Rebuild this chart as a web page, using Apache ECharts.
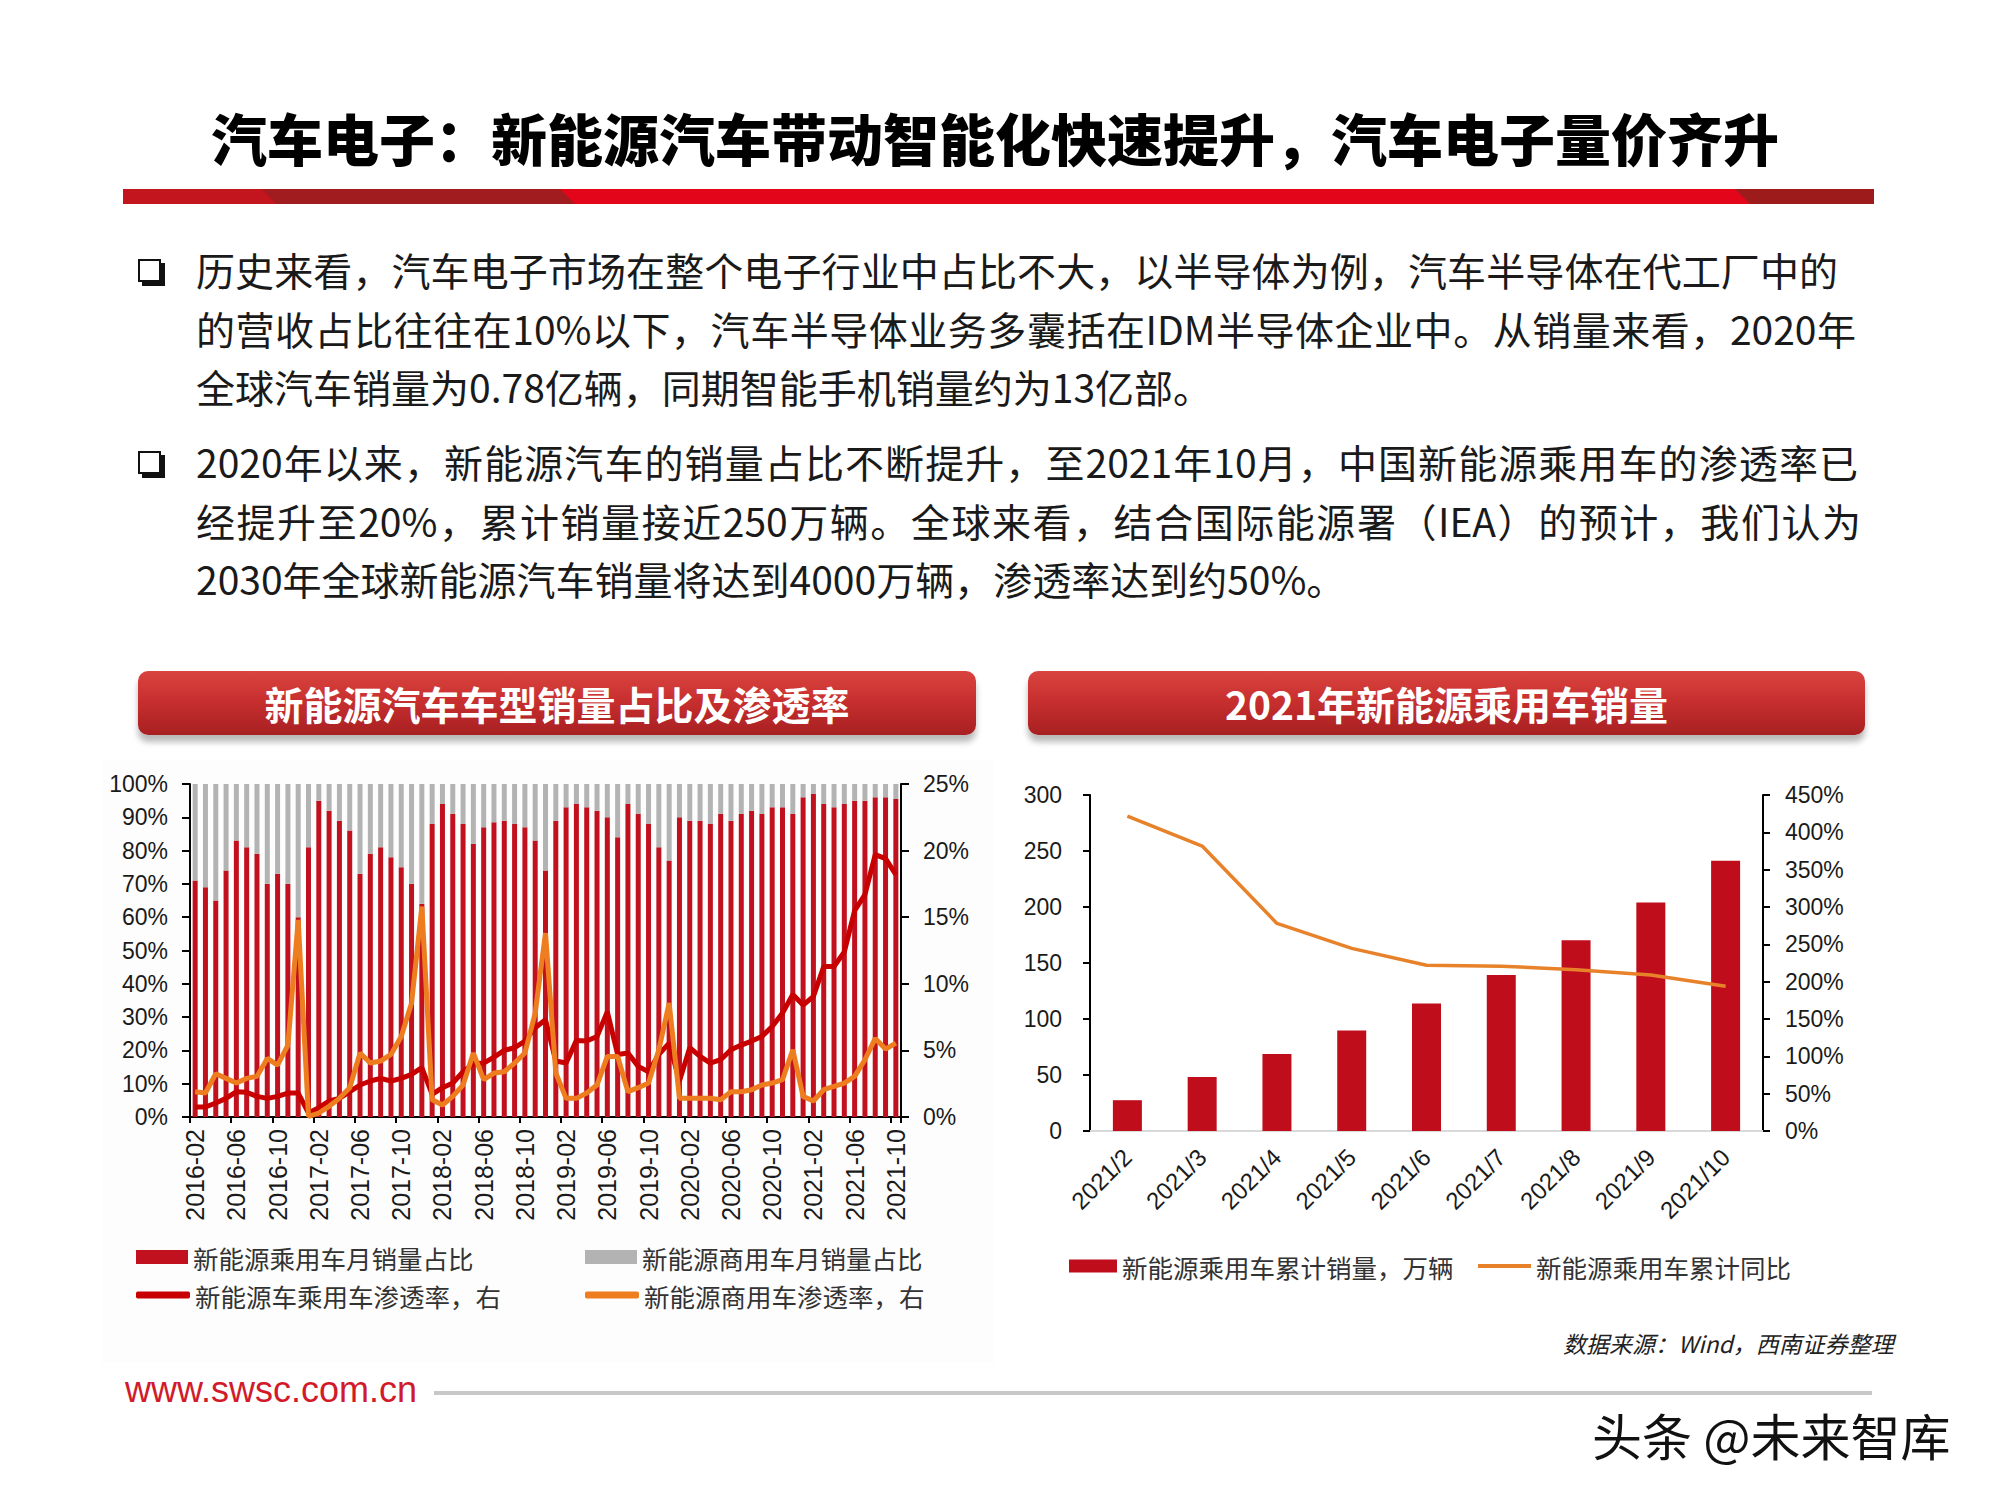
<!DOCTYPE html>
<html><head><meta charset="utf-8">
<script src="https://cdn.jsdelivr.net/npm/echarts/dist/echarts.min.js"></script>
<style>
body{margin:0;width:2000px;height:1500px;background:#fff;position:relative;overflow:hidden;font-family:"Noto Sans CJK SC",sans-serif;}
.abs{position:absolute;white-space:nowrap;}
#title{left:0;width:1990px;top:97px;text-align:center;font-size:56px;font-weight:900;line-height:80px;color:#000;z-index:3;}
.line{left:196px;font-size:39px;line-height:58px;height:58px;color:#1a1a1a;z-index:3;}
.just{text-align:justify;text-align-last:justify;}
.bul{width:19px;height:19px;border:2.5px solid #111;background:#fff;box-shadow:4px 4px 0 #111;z-index:3;}
.pill{height:64px;border-radius:10px;background:linear-gradient(to bottom,#d9443f 0%,#c8302f 45%,#a81f21 100%);box-shadow:0 7px 6px rgba(0,0,0,0.28);color:#fff;font-weight:700;font-size:39px;line-height:64px;text-align:center;z-index:3;}
#chart{position:absolute;left:0;top:0;width:2000px;height:1500px;z-index:2;}
</style></head>
<body>
<div id="title" class="abs">汽车电子：新能源汽车带动智能化快速提升，汽车电子量价齐升</div>
<svg class="abs" style="left:0;top:0;z-index:3" width="2000" height="230">
  <rect x="123" y="189" width="1751" height="15" fill="#e3061b"/>
  <polygon points="123,189 262,189 276,204 123,204" fill="#c3151d"/>
  <polygon points="262,189 560,189 575,204 276,204" fill="#a11c1e"/>
  <polygon points="1735,189 1874,189 1874,204 1750,204" fill="#9e1b1c"/>
</svg>

<div class="abs bul" style="left:138px;top:259px"></div>
<div class="abs line just" style="top:240px;width:1642px">历史来看，汽车电子市场在整个电子行业中占比不大，以半导体为例，汽车半导体在代工厂中的</div>
<div class="abs line just" style="top:299px;width:1660px">的营收占比往往在10%以下，汽车半导体业务多囊括在IDM半导体企业中。从销量来看，2020年</div>
<div class="abs line" style="top:357px">全球汽车销量为0.78亿辆，同期智能手机销量约为13亿部。</div>
<div class="abs bul" style="left:138px;top:451px"></div>
<div class="abs line just" style="top:432px;width:1662px">2020年以来，新能源汽车的销量占比不断提升，至2021年10月，中国新能源乘用车的渗透率已</div>
<div class="abs line just" style="top:491px;width:1665px">经提升至20%，累计销量接近250万辆。全球来看，结合国际能源署（IEA）的预计，我们认为</div>
<div class="abs line" style="top:549px">2030年全球新能源汽车销量将达到4000万辆，渗透率达到约50%。</div>

<div class="abs pill" style="left:138px;top:671px;width:838px">新能源汽车车型销量占比及渗透率</div>
<div class="abs pill" style="left:1028px;top:671px;width:837px">2021年新能源乘用车销量</div>

<div class="abs" style="left:102px;top:760px;width:892px;height:603px;background:#fdfdfd;z-index:1"></div>

<div id="chart"></div>

<div class="abs" style="left:1563px;top:1328px;font-size:23px;line-height:30px;font-style:italic;color:#222;z-index:3">数据来源：Wind，西南证券整理</div>
<div class="abs" style="left:125px;top:1368px;font-family:'Liberation Sans',Arial,sans-serif;font-size:36px;line-height:44px;color:#d11a2a;z-index:3">www.swsc.com.cn</div>
<div class="abs" style="left:434px;top:1391px;width:1438px;height:4px;background:#c8c8c8;z-index:3"></div>
<div class="abs" style="left:1592px;top:1402px;font-size:50px;line-height:64px;color:#111;text-shadow:2px 2px 0 #fff,-1px -1px 0 #fff;z-index:3">头条 @未来智库</div>

<script>
const leftCats = ['2016-02','2016-03','2016-04','2016-05','2016-06','2016-07','2016-08','2016-09','2016-10','2016-11','2016-12',
'2017-01','2017-02','2017-03','2017-04','2017-05','2017-06','2017-07','2017-08','2017-09','2017-10','2017-11','2017-12',
'2018-01','2018-02','2018-03','2018-04','2018-05','2018-06','2018-07','2018-08','2018-09','2018-10','2018-11','2018-12',
'2019-01','2019-02','2019-03','2019-04','2019-05','2019-06','2019-07','2019-08','2019-09','2019-10','2019-11','2019-12',
'2020-01','2020-02','2020-03','2020-04','2020-05','2020-06','2020-07','2020-08','2020-09','2020-10','2020-11','2020-12',
'2021-01','2021-02','2021-03','2021-04','2021-05','2021-06','2021-07','2021-08','2021-09','2021-10'];

const passShare = [71,69,65,74,83,81,79,70,73,70,60,
81,95,92,89,86,73,79,81,78,75,70,64,
88,94,91,88,82,87,88.5,89,88,87,83,74,
89,93,94,93,92,90,84,94,91,88,81,77,
90,89,89,88,91,89,91,92,91,93,93,91,
96,97,94,93,94,95,95,96,96,95.5];

const commShare = [29,31,35,26,17,19,21,30,27,30,40,
19,5,8,11,14,27,21,19,22,25,30,36,
12,6,9,12,18,13,11.5,11,12,13,17,26,
11,7,6,7,8,10,16,6,9,12,19,23,
10,11,11,12,9,11,9,8,9,7,7,9,
4,3,6,7,6,5,5,4,4,4.5];

const passPen = [0.75,0.75,1.05,1.4,1.9,1.85,1.55,1.4,1.55,1.8,1.8,
0.3,0.7,1.2,1.4,1.9,2.4,2.7,2.9,2.7,2.9,3.2,3.7,
1.7,2.2,2.55,3.4,4.0,4.05,4.5,5.0,5.2,5.7,6.7,7.3,
4.2,4.05,5.75,5.7,6.05,7.9,4.7,4.8,3.8,3.4,4.7,5.55,
2.7,5.2,4.55,4.05,4.3,5.05,5.4,5.7,6.05,6.8,7.8,9.2,
8.4,9.05,11.3,11.3,12.4,15.5,16.7,19.7,19.4,18.2];

const commPen = [1.9,1.8,3.25,2.9,2.55,2.9,3.05,4.4,3.9,5.4,14.8,
0.05,0.3,0.8,1.4,2.2,4.8,4.05,4.2,4.7,6.05,8.55,15.8,
1.3,0.9,1.55,2.4,4.8,2.8,3.3,3.4,4.05,4.8,7.8,13.8,
3.3,1.4,1.4,1.8,2.4,4.55,4.55,1.9,2.2,2.55,5.05,8.55,
1.4,1.4,1.4,1.4,1.3,1.9,1.9,2.05,2.4,2.55,2.8,5.05,
1.55,1.2,2.05,2.3,2.55,3.05,4.3,5.9,5.1,5.55];

const rightCats = ['2021/2','2021/3','2021/4','2021/5','2021/6','2021/7','2021/8','2021/9','2021/10'];
const cumSales = [27.5,48.3,68.8,89.7,113.8,139.2,170.4,204,241.4];
const cumYoY = [421.8,381.6,278,244.6,222,220.7,216,209,193.8];

const AX = {fontFamily:'"Liberation Sans", Arial, sans-serif', fontSize:23, color:'#1a1a1a'};
const LG = {fontFamily:'"Noto Sans CJK SC", sans-serif', fontSize:25.5, color:'#333', lineHeight:28};
const axLine = {show:true, lineStyle:{color:'#000', width:2}};

const chart = echarts.init(document.getElementById('chart'), null, {renderer:'svg'});
chart.setOption({
  animation:false,
  backgroundColor:'transparent',
  grid:[
    {left:190, top:784, width:711, height:333},
    {left:1090, top:795, width:673, height:336}
  ],
  xAxis:[
    {type:'category', gridIndex:0, data:leftCats, boundaryGap:true,
     axisLine:axLine,
     axisTick:{show:true, interval:3, length:6, lineStyle:{color:'#000', width:2}},
     axisLabel:Object.assign({interval:3, rotate:90, margin:12}, AX, {fontSize:25}),
     splitLine:{show:false}},
    {type:'category', gridIndex:1, data:rightCats, boundaryGap:true,
     axisLine:{show:true, lineStyle:{color:'#d9d9d9', width:2}},
     axisTick:{show:false},
     axisLabel:Object.assign({interval:0, rotate:45, margin:22}, AX, {fontSize:24}),
     splitLine:{show:false}}
  ],
  yAxis:[
    {type:'value', gridIndex:0, position:'left', min:0, max:100, interval:10,
     axisLine:axLine, axisTick:{show:true, length:8, lineStyle:{color:'#000', width:2}},
     axisLabel:Object.assign({formatter:'{value}%', margin:22}, AX), splitLine:{show:false}},
    {type:'value', gridIndex:0, position:'right', min:0, max:25, interval:5,
     axisLine:axLine, axisTick:{show:true, length:8, lineStyle:{color:'#000', width:2}},
     axisLabel:Object.assign({formatter:'{value}%', margin:22}, AX), splitLine:{show:false}},
    {type:'value', gridIndex:1, position:'left', min:0, max:300, interval:50,
     axisLine:axLine, axisTick:{show:true, length:7, lineStyle:{color:'#000', width:2}},
     axisLabel:Object.assign({margin:28}, AX), splitLine:{show:false}},
    {type:'value', gridIndex:1, position:'right', min:0, max:450, interval:50,
     axisLine:axLine, axisTick:{show:true, length:7, lineStyle:{color:'#000', width:2}},
     axisLabel:Object.assign({formatter:'{value}%', margin:22}, AX), splitLine:{show:false}}
  ],
  legend:[
    {data:['新能源乘用车月销量占比'], left:136, top:1243, padding:0, icon:'rect', itemWidth:52, itemHeight:14, textStyle:LG, selectedMode:false},
    {data:['新能源商用车月销量占比'], left:585, top:1243, padding:0, icon:'rect', itemWidth:52, itemHeight:14, textStyle:LG, selectedMode:false},
    {data:['新能源车乘用车渗透率，右'], left:136, top:1281, padding:0, icon:'roundRect', itemWidth:54, itemHeight:7, textStyle:LG, selectedMode:false},
    {data:['新能源商用车渗透率，右'], left:585, top:1281, padding:0, icon:'roundRect', itemWidth:54, itemHeight:7, textStyle:LG, selectedMode:false},
    {data:['新能源乘用车累计销量，万辆'], left:1069, top:1252, padding:0, icon:'rect', itemWidth:48, itemHeight:13, textStyle:LG, selectedMode:false},
    {data:['新能源乘用车累计同比'], left:1478, top:1252, padding:0, icon:'rect', itemWidth:53, itemHeight:4, textStyle:LG, selectedMode:false}
  ],
  series:[
    {name:'新能源乘用车月销量占比', type:'bar', xAxisIndex:0, yAxisIndex:0, stack:'share', data:passShare, barWidth:5, itemStyle:{color:'#c1111e'}},
    {name:'新能源商用车月销量占比', type:'bar', xAxisIndex:0, yAxisIndex:0, stack:'share', data:commShare, barWidth:5, itemStyle:{color:'#b3b3b3'}},
    {name:'新能源车乘用车渗透率，右', type:'line', xAxisIndex:0, yAxisIndex:1, data:passPen, symbol:'none', z:5, lineStyle:{color:'#c80000', width:5}, itemStyle:{color:'#c80000'}},
    {name:'新能源商用车渗透率，右', type:'line', xAxisIndex:0, yAxisIndex:1, data:commPen, symbol:'none', z:5, lineStyle:{color:'#ee7d1f', width:5}, itemStyle:{color:'#ee7d1f'}},
    {name:'新能源乘用车累计销量，万辆', type:'bar', xAxisIndex:1, yAxisIndex:2, data:cumSales, barWidth:29, itemStyle:{color:'#c00d1c'}},
    {name:'新能源乘用车累计同比', type:'line', xAxisIndex:1, yAxisIndex:3, data:cumYoY, symbol:'none', z:5, lineStyle:{color:'#e8822a', width:3.5}, itemStyle:{color:'#e8822a'}}
  ]
});
</script>
</body></html>
